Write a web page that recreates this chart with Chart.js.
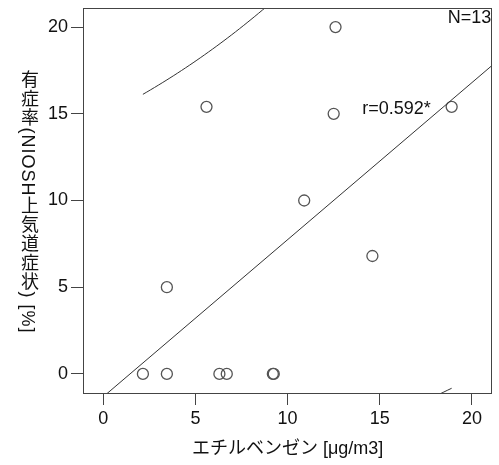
<!DOCTYPE html>
<html><head><meta charset="utf-8">
<script src="https://cdn.jsdelivr.net/npm/chart.js@4"></script>
<style>
html,body{margin:0;padding:0;background:#fff;}
#wrap{position:relative;width:499px;height:465px;}
#ytitle{position:absolute;left:28px;top:202px;transform:translate(-50%,-50%);writing-mode:vertical-rl;text-orientation:mixed;font:18px 'Liberation Sans','Noto Sans CJK JP',sans-serif;color:#111;white-space:nowrap;letter-spacing:1px;}
</style></head><body>
<div id="wrap"><canvas id="c" width="499" height="465"></canvas><div id="ytitle"></div></div>
<script>
// Data
const concentration = [2.15, 3.45, 3.45, 6.3, 6.7, 9.2, 9.25, 5.6, 12.6, 12.5, 10.9, 14.6, 18.9];
const prevalence    = [0, 0, 5, 0, 0, 0, 0, 15.4, 20, 15, 10, 6.8, 15.4];
const xTicks = [0, 5, 10, 15, 20];
const yTicks = [0, 5, 10, 15, 20];
const xTitle = 'エチルベンゼン [μg/m3]';
const yTitle = '有症率(NIOSH上気道症状) [%]';
const nLabel = 'N=13';
const rLabel = 'r=0.592*';

document.getElementById('ytitle').textContent = yTitle;

// Least-squares fit and 95% prediction interval derived from the data
const n = concentration.length;
const mx = concentration.reduce((a,b)=>a+b,0)/n;
const my = prevalence.reduce((a,b)=>a+b,0)/n;
let sxx=0, sxy=0;
for (let i=0;i<n;i++){ sxx += (concentration[i]-mx)**2; sxy += (concentration[i]-mx)*(prevalence[i]-my); }
const slope = sxy/sxx, intercept = my - slope*mx;
let sse=0;
for (let i=0;i<n;i++){ sse += (prevalence[i]-(intercept+slope*concentration[i]))**2; }
const se = Math.sqrt(sse/(n-2));
const tCrit = 2.201; // t(0.975, df=11)
const XMIN=-1.1, XMAX=21.1, YMIN=-1.1, YMAX=21.1;
const fitLine = [XMIN, XMAX].map(x=>({x, y: intercept+slope*x}));
const xLo = Math.min(...concentration), xHi = Math.max(...concentration);
const upper=[], lower=[];
for (let i=0;i<=80;i++){
  const x = xLo + (xHi-xLo)*i/80;
  const hw = tCrit*se*Math.sqrt(1+1/n+(x-mx)**2/sxx);
  upper.push({x, y: intercept+slope*x+hw});
  lower.push({x, y: intercept+slope*x-hw});
}
const points = concentration.map((x,i)=>({x, y: prevalence[i]}));

const FAM = "'Liberation Sans','Noto Sans CJK JP',sans-serif";
const LINE = '#333';

const framePlugin = {
  id:'frame',
  afterDraw(chart){
    const {ctx, chartArea:a} = chart;
    ctx.save();
    ctx.strokeStyle = '#444'; ctx.lineWidth = 1;
    ctx.strokeRect(Math.round(a.left)+0.5, Math.round(a.top)+0.5, Math.round(a.right-a.left)-1, Math.round(a.bottom-a.top));
    ctx.fillStyle = '#111';
    ctx.font = '18px ' + FAM;
    ctx.textBaseline = 'middle';
    ctx.textAlign = 'right';
    ctx.fillText(nLabel, a.right - 1, a.top + 10);
    ctx.textAlign = 'left';
    const xs = chart.scales.x, ys = chart.scales.y;
    ctx.fillText(rLabel, xs.getPixelForValue(14.05), ys.getPixelForValue(15.25));
    ctx.restore();
  }
};

new Chart(document.getElementById('c'), {
  type: 'scatter',
  data: { datasets: [
    { type:'line', data: fitLine, borderColor: LINE, borderWidth: 1, pointRadius: 0, fill: false, tension: 0 },
    { type:'line', data: upper, borderColor: LINE, borderWidth: 1, pointRadius: 0, fill: false, tension: 0 },
    { type:'line', data: lower, borderColor: LINE, borderWidth: 1, pointRadius: 0, fill: false, tension: 0 },
    { data: points, pointStyle: 'circle', pointRadius: 5.5, pointHoverRadius: 5.5, borderColor: '#555', borderWidth: 1.3, backgroundColor: 'rgba(0,0,0,0)' }
  ]},
  options: {
    responsive: false, animation: false, devicePixelRatio: 1,
    layout: { padding: { left: 45, right: 6, top: 8, bottom: 0 } },
    plugins: { legend: { display: false }, tooltip: { enabled: false } },
    scales: {
      x: {
        type: 'linear', min: XMIN, max: XMAX,
        afterBuildTicks: s => { s.ticks = xTicks.map(v => ({ value: v })); },
        afterFit: s => { s.height = 72; s.paddingLeft = 0; s.paddingRight = 0; },
        grid: { drawOnChartArea: false, tickLength: 12, color: '#444', lineWidth: 1 },
        border: { display: false },
        ticks: { font: { size: 18, family: FAM }, color: '#111', padding: 3, maxRotation: 0 },
        title: { display: true, text: xTitle, font: { size: 18, family: FAM }, color: '#111', padding: { top: 2, bottom: 5 } }
      },
      y: {
        type: 'linear', min: YMIN, max: YMAX,
        afterBuildTicks: s => { s.ticks = yTicks.map(v => ({ value: v })); },
        afterFit: s => { s.width = 38; s.paddingTop = 0; s.paddingBottom = 0; },
        grid: { drawOnChartArea: false, tickLength: 12, color: '#444', lineWidth: 1 },
        border: { display: false },
        ticks: { font: { size: 18, family: FAM }, color: '#111', padding: 3 }
      }
    }
  },
  plugins: [framePlugin]
});
</script>
</body></html>
